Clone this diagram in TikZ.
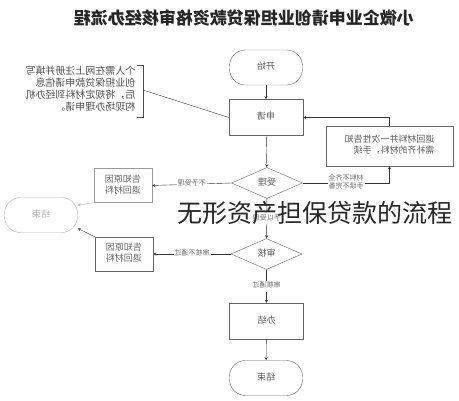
\documentclass[tikz,border=0pt]{standalone}
\usepackage{fontspec}
\usepackage{graphicx}
\setmainfont{Noto Sans CJK SC}
\usetikzlibrary{shapes.geometric}

% mirrored text, as the picture prints it
\newcommand{\mir}[1]{\reflectbox{\begin{tabular}{@{}l@{}}#1\end{tabular}}}

\begin{document}
\begin{tikzpicture}[
    x=1pt,y=-1pt,
    >=stealth,
    term/.style={draw=gray!80!black,rounded corners=16pt,minimum width=73pt,minimum height=35pt,inner sep=0,text=gray!70!black,font=\fontsize{9}{11}\selectfont},
    proc/.style={draw=gray!80!black,minimum width=74pt,minimum height=36pt,inner sep=0,text=gray!70!black,font=\fontsize{9}{11}\selectfont},
    dec/.style={diamond,draw=gray!80!black,aspect=2.4,minimum width=71pt,minimum height=31pt,inner sep=0,text=gray!70!black,font=\fontsize{9}{11}\selectfont},
    gbox/.style={draw=gray!80,minimum width=58pt,minimum height=34pt,inner sep=0,text=gray!80!black,font=\fontsize{9}{11}\selectfont},
    lbl/.style={fill=white,inner sep=1pt,text=gray!80!black,font=\fontsize{7}{8.5}\selectfont},
    flow/.style={->,draw=gray!40!black}
    ]
    \useasboundingbox (0,0) rectangle (459,400);

    % title
    \node[font=\fontsize{17}{19}\selectfont\bfseries,text=black!85] (title) at (244,18)
      {\reflectbox{小微企业申请创业担保贷款资格审核经办流程}};

    % main column
    \node[term] (start) at (266,67.5) {\mir{开始}};
    \node[proc] (apply) at (266,117.5) {\mir{申请}};
    \node[dec] (accept) at (267,183) {\mir{受理}};
    \node[dec] (check) at (266.5,254) {\mir{审核}};
    \node[proc] (done) at (266.5,321) {\mir{办结}};
    \node[term] (stop) at (266,378) {\mir{结束}};

    % side boxes
    \node[draw=gray!80!black,minimum width=127pt,minimum height=40pt,inner sep=0,text=gray!70!black,font=\fontsize{9}{11}\selectfont] (supply) at (389.5,146)
      {\mir{退回材料并一次性告知\\需补齐的材料，手续}};
    \node[gbox] (back1) at (123,185.5) {\mir{告知原因\\退回材料}};
    \node[gbox,draw=gray!80!black] (back2) at (124,254) {\mir{告知原因\\退回材料}};
    \node[term,draw=gray!60,text=gray!60] (stopl) at (41,215) {\mir{结束}};

    % note with bracket
    \node[inner sep=0,text=gray!60!black,font=\fontsize{10}{12}\selectfont] (note) at (80.5,90)
      {\mir{个人需在网上注册并填写\\创业担保贷款申请信息\\后，将规定材料到经办机\\构现场办理申请。}};
    \coordinate (brk) at (143,90);
    \draw[gray!60!black] (137,65) -- (143,65) -- (143,117) -- (137,117);
    \draw[gray!40!black] (brk) -- (apply.west);

    % flow
    \draw[flow] (start) -- (apply);
    \draw[flow] (apply) -- (accept);
    \draw[flow] (accept) -- node[lbl] {\mir{予以受理}} (check);
    \draw[flow] (check) -- node[lbl] {\mir{审核通过}} (done);
    \draw[flow] (done) -- (stop);

    % branches
    \draw[flow] (accept.west) -- node[lbl] {\mir{不予受理}} (back1.east);
    \draw[flow] (check.west) -- node[lbl] {\mir{审核不通过}} (back2.east);
    \draw[flow] (accept.east) -| node[lbl,pos=0.25] {\mir{材料不齐全\\手续不完备}} (supply.south);
    \draw[flow] (supply.north) |- (apply.east);
    \draw[flow,draw=gray!60] (back1.south west) -- (stopl.15);
    \draw[flow] (back2.north west) -- (stopl.-20);

    % overlay text
    \node[font=\fontsize{25}{27}\selectfont,text=black!85] (wm) at (315,213) {无形资产担保贷款的流程};
\end{tikzpicture}
\end{document}
